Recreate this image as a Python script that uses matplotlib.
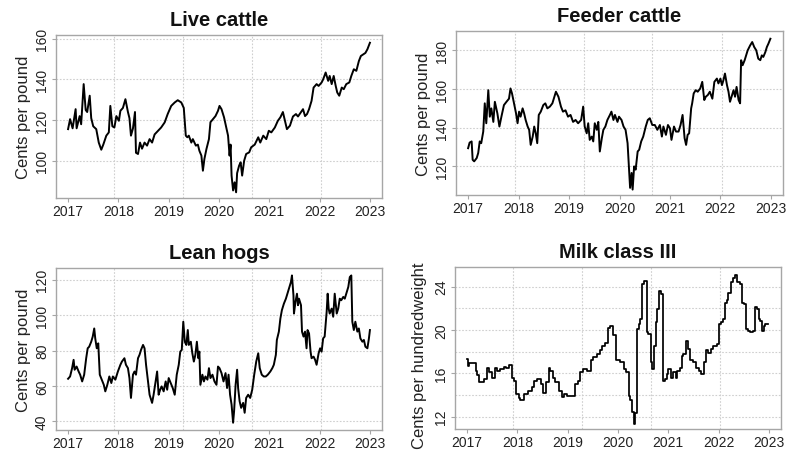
import matplotlib
matplotlib.use("Agg")
import matplotlib.pyplot as plt
import numpy as np

plt.rcParams['font.family'] = ['Liberation Sans', 'DejaVu Sans']

# ---------------- data (decimal years, values) ----------------
lc_years = [2017.00, 2017.04, 2017.09, 2017.15, 2017.17, 2017.23, 2017.26, 2017.31, 2017.35, 2017.38,
            2017.43, 2017.46, 2017.50, 2017.56, 2017.61, 2017.66, 2017.70, 2017.76, 2017.81, 2017.84,
            2017.88, 2017.92, 2017.96, 2018.01, 2018.04, 2018.09, 2018.14, 2018.19, 2018.22, 2018.25,
            2018.29, 2018.33, 2018.35, 2018.39, 2018.43, 2018.47, 2018.52, 2018.57, 2018.62, 2018.67,
            2018.72, 2018.79, 2018.85, 2018.92, 2018.98, 2019.05, 2019.12, 2019.18, 2019.25, 2019.30,
            2019.34, 2019.37, 2019.40, 2019.45, 2019.48, 2019.54, 2019.58, 2019.61, 2019.65, 2019.68,
            2019.71, 2019.75, 2019.80, 2019.83, 2019.88, 2019.93, 2019.98, 2020.01, 2020.05, 2020.10,
            2020.13, 2020.18, 2020.21, 2020.23, 2020.25, 2020.28, 2020.31, 2020.34, 2020.36, 2020.40,
            2020.43, 2020.46, 2020.50, 2020.54, 2020.60, 2020.64, 2020.71, 2020.78, 2020.82, 2020.88,
            2020.94, 2020.99, 2021.04, 2021.11, 2021.17, 2021.22, 2021.27, 2021.31, 2021.35, 2021.41,
            2021.47, 2021.53, 2021.57, 2021.63, 2021.67, 2021.71, 2021.75, 2021.79, 2021.84, 2021.88,
            2021.94, 2021.98, 2022.04, 2022.07, 2022.12, 2022.17, 2022.20, 2022.24, 2022.28, 2022.32,
            2022.35, 2022.39, 2022.44, 2022.48, 2022.53, 2022.59, 2022.63, 2022.68, 2022.73, 2022.78,
            2022.82, 2022.87, 2022.91, 2022.95, 2023.00]
lc_values = [115.6, 120.5, 116.0, 125.4, 116.0, 122.0, 118.0, 137.7, 125.0, 124.0,
             132.0, 121.0, 117.0, 115.6, 109.0, 105.5, 108.0, 112.4, 114.0, 127.0,
             117.0, 116.4, 122.0, 119.7, 124.6, 126.0, 130.3, 124.0, 121.0, 112.4,
             116.0, 124.0, 104.0, 103.4, 109.0, 106.0, 109.0, 107.5, 110.7, 109.0,
             113.0, 114.8, 116.4, 118.9, 123.0, 127.0, 128.7, 129.8, 128.7, 126.0,
             112.4, 111.6, 112.4, 109.0, 110.7, 107.5, 108.0, 105.0, 102.6, 95.2,
             101.0, 105.8, 110.7, 119.0, 120.5, 122.0, 124.6, 127.0, 125.4, 121.4,
             118.0, 112.4, 102.6, 108.0, 92.8, 85.5, 89.5, 84.6, 94.0, 97.7,
             99.3, 92.8, 100.1, 103.4, 104.2, 106.7, 108.0, 111.6, 109.0, 112.4,
             110.7, 114.8, 114.0, 116.4, 119.7, 121.4, 124.0, 119.7, 115.6, 117.3,
             121.8, 123.0, 121.8, 124.0, 125.4, 122.0, 123.0, 125.4, 129.5, 136.0,
             137.7, 136.8, 138.5, 140.0, 143.4, 139.3, 141.7, 137.7, 141.7, 136.8,
             133.6, 132.0, 136.0, 135.2, 137.7, 138.5, 141.7, 145.0, 144.2, 149.0,
             151.5, 152.3, 153.0, 154.8, 158.0]

fc_years = [2017.00, 2017.03, 2017.07, 2017.09, 2017.12, 2017.17, 2017.20, 2017.23, 2017.26, 2017.30,
            2017.33, 2017.36, 2017.40, 2017.43, 2017.46, 2017.50, 2017.53, 2017.58, 2017.62, 2017.66,
            2017.71, 2017.76, 2017.81, 2017.84, 2017.87, 2017.91, 2017.95, 2017.98, 2018.01, 2018.04,
            2018.08, 2018.11, 2018.14, 2018.18, 2018.21, 2018.24, 2018.28, 2018.31, 2018.34, 2018.37,
            2018.40, 2018.44, 2018.49, 2018.53, 2018.57, 2018.62, 2018.67, 2018.71, 2018.74, 2018.79,
            2018.84, 2018.88, 2018.93, 2018.98, 2019.03, 2019.08, 2019.13, 2019.18, 2019.24, 2019.28,
            2019.31, 2019.35, 2019.38, 2019.41, 2019.45, 2019.48, 2019.51, 2019.55, 2019.58, 2019.61,
            2019.65, 2019.68, 2019.72, 2019.76, 2019.81, 2019.84, 2019.88, 2019.91, 2019.96, 2019.99,
            2020.04, 2020.08, 2020.12, 2020.16, 2020.19, 2020.21, 2020.24, 2020.26, 2020.29, 2020.32,
            2020.36, 2020.39, 2020.43, 2020.47, 2020.52, 2020.56, 2020.60, 2020.65, 2020.70, 2020.75,
            2020.80, 2020.84, 2020.87, 2020.92, 2020.96, 2021.00, 2021.03, 2021.08, 2021.12, 2021.17,
            2021.21, 2021.25, 2021.29, 2021.32, 2021.35, 2021.38, 2021.42, 2021.44, 2021.47, 2021.51,
            2021.55, 2021.60, 2021.64, 2021.68, 2021.71, 2021.75, 2021.79, 2021.84, 2021.88, 2021.93,
            2021.96, 2022.00, 2022.03, 2022.06, 2022.09, 2022.13, 2022.16, 2022.19, 2022.22, 2022.26,
            2022.29, 2022.32, 2022.36, 2022.39, 2022.41, 2022.44, 2022.48, 2022.51, 2022.54, 2022.59,
            2022.63, 2022.67, 2022.71, 2022.75, 2022.79, 2022.82, 2022.85, 2022.89, 2022.92, 2022.95,
            2022.99]
fc_values = [129.4, 132.3, 132.9, 123.4, 122.6, 124.3, 126.9, 132.9, 132.0, 138.0,
             152.6, 142.3, 159.4, 145.7, 150.0, 143.0, 153.4, 147.4, 140.6, 145.7,
             151.7, 153.4, 155.0, 160.3, 157.7, 152.6, 147.4, 142.3, 148.3, 145.7,
             150.0, 147.4, 144.0, 140.6, 138.9, 131.1, 135.4, 140.6, 137.1, 132.0,
             146.6, 148.3, 151.7, 152.6, 150.0, 150.9, 152.6, 156.0, 158.6, 156.0,
             150.9, 148.3, 149.0, 145.7, 146.6, 143.0, 144.0, 142.3, 144.0, 150.9,
             140.6, 137.1, 142.3, 133.7, 135.4, 132.9, 142.3, 138.9, 143.0, 127.7,
             134.6, 138.9, 140.6, 144.0, 146.6, 148.3, 144.0, 146.6, 143.0, 145.7,
             144.0, 140.6, 138.9, 132.0, 118.3, 108.9, 116.6, 108.0, 120.0, 118.3,
             127.7, 128.6, 132.9, 135.4, 140.6, 144.0, 144.9, 141.4, 141.4, 138.9,
             141.4, 135.4, 140.6, 136.3, 141.4, 139.7, 133.7, 140.6, 138.0, 138.0,
             141.4, 146.6, 134.6, 131.1, 136.3, 137.1, 150.0, 152.6, 157.7, 159.4,
             158.6, 160.3, 163.7, 154.3, 156.0, 156.9, 158.6, 155.0, 163.7, 165.4,
             162.9, 165.4, 162.0, 164.6, 168.0, 162.0, 158.6, 153.4, 156.0, 159.4,
             156.0, 161.1, 154.3, 152.6, 174.9, 172.3, 174.9, 177.4, 180.0, 182.6,
             184.3, 181.7, 180.0, 175.7, 174.9, 177.4, 176.6, 179.1, 181.7, 183.4,
             186.0]

lh_years = [2017.00, 2017.04, 2017.08, 2017.11, 2017.13, 2017.17, 2017.21, 2017.24, 2017.28, 2017.32,
            2017.36, 2017.39, 2017.42, 2017.46, 2017.49, 2017.52, 2017.54, 2017.57, 2017.60, 2017.63,
            2017.67, 2017.71, 2017.74, 2017.78, 2017.82, 2017.86, 2017.89, 2017.94, 2017.99, 2018.04,
            2018.07, 2018.12, 2018.15, 2018.19, 2018.22, 2018.25, 2018.29, 2018.32, 2018.35, 2018.39,
            2018.42, 2018.45, 2018.49, 2018.52, 2018.55, 2018.59, 2018.62, 2018.67, 2018.70, 2018.73,
            2018.77, 2018.80, 2018.83, 2018.86, 2018.90, 2018.94, 2018.97, 2019.00, 2019.04, 2019.08,
            2019.12, 2019.16, 2019.20, 2019.23, 2019.26, 2019.29, 2019.32, 2019.35, 2019.38, 2019.40,
            2019.44, 2019.47, 2019.50, 2019.53, 2019.56, 2019.59, 2019.61, 2019.63, 2019.67, 2019.70,
            2019.73, 2019.77, 2019.80, 2019.83, 2019.87, 2019.91, 2019.95, 2019.98, 2020.01, 2020.05,
            2020.09, 2020.13, 2020.16, 2020.19, 2020.22, 2020.25, 2020.28, 2020.30, 2020.33, 2020.36,
            2020.38, 2020.41, 2020.44, 2020.48, 2020.51, 2020.54, 2020.58, 2020.62, 2020.66, 2020.70,
            2020.74, 2020.78, 2020.81, 2020.85, 2020.89, 2020.93, 2020.97, 2021.02, 2021.06, 2021.09,
            2021.13, 2021.15, 2021.19, 2021.22, 2021.25, 2021.29, 2021.33, 2021.36, 2021.39, 2021.43,
            2021.45, 2021.48, 2021.49, 2021.52, 2021.55, 2021.57, 2021.59, 2021.63, 2021.65, 2021.68,
            2021.71, 2021.74, 2021.76, 2021.79, 2021.82, 2021.84, 2021.88, 2021.91, 2021.94, 2021.98,
            2022.01, 2022.04, 2022.07, 2022.10, 2022.14, 2022.16, 2022.18, 2022.20, 2022.24, 2022.27,
            2022.30, 2022.34, 2022.37, 2022.40, 2022.43, 2022.47, 2022.50, 2022.53, 2022.57, 2022.60,
            2022.63, 2022.65, 2022.68, 2022.71, 2022.75, 2022.78, 2022.81, 2022.85, 2022.88, 2022.91,
            2022.95, 2022.98, 2023.00]
lh_values = [64.1, 65.4, 70.1, 74.8, 69.2, 71.0, 68.2, 66.4, 62.6, 66.4,
             75.7, 81.3, 82.2, 85.0, 87.9, 92.5, 86.9, 81.3, 84.1, 66.4,
             63.6, 60.7, 57.0, 60.7, 65.4, 61.7, 65.4, 63.6, 68.2, 72.0,
             73.8, 75.7, 72.0, 70.1, 64.5, 53.3, 66.4, 68.2, 66.4, 75.7,
             77.6, 80.4, 83.2, 81.3, 72.0, 62.6, 55.1, 50.5, 55.1, 60.7,
             68.2, 55.1, 57.9, 59.8, 57.0, 62.6, 57.9, 64.5, 61.7, 58.9,
             55.1, 66.4, 72.0, 79.4, 80.4, 96.3, 85.0, 83.2, 91.6, 83.2,
             85.0, 78.5, 73.8, 77.6, 85.0, 75.7, 79.4, 60.7, 66.4, 62.6,
             65.4, 63.6, 70.1, 64.5, 66.4, 62.6, 60.7, 71.0, 70.1, 67.3,
             62.6, 67.3, 58.9, 66.4, 55.1, 49.5, 39.3, 45.8, 60.7, 69.2,
             58.9, 51.4, 47.7, 50.5, 44.9, 53.3, 55.1, 53.3, 57.9, 66.4,
             73.8, 78.5, 70.1, 66.4, 65.4, 65.4, 66.4, 68.2, 70.1, 72.0,
             77.6, 86.0, 90.7, 98.1, 102.8, 106.5, 109.3, 112.1, 114.9, 118.7,
             122.4, 111.2, 100.9, 107.5, 112.1, 105.6, 109.3, 105.6, 90.7, 87.9,
             90.7, 81.3, 91.6, 89.7, 79.4, 75.7, 76.6, 74.8, 72.0, 78.5,
             81.3, 79.4, 86.9, 87.9, 101.9, 112.1, 103.7, 100.9, 103.7, 99.1,
             112.1, 100.9, 103.7, 109.3, 108.4, 110.3, 109.3, 112.1, 115.9, 121.5,
             122.4, 96.3, 91.6, 96.3, 90.7, 92.5, 86.9, 85.0, 86.0, 82.2,
             81.3, 86.9, 91.6]

mk_years = [2017.00, 2017.01, 2017.03, 2017.17, 2017.20, 2017.24, 2017.33, 2017.40, 2017.43, 2017.50,
            2017.56, 2017.60, 2017.66, 2017.73, 2017.78, 2017.83, 2017.89, 2017.93, 2017.98, 2018.03,
            2018.06, 2018.14, 2018.22, 2018.29, 2018.34, 2018.39, 2018.46, 2018.51, 2018.57, 2018.62,
            2018.65, 2018.71, 2018.75, 2018.82, 2018.88, 2018.93, 2018.98, 2019.15, 2019.20, 2019.25,
            2019.31, 2019.38, 2019.46, 2019.51, 2019.58, 2019.65, 2019.69, 2019.74, 2019.80, 2019.84,
            2019.90, 2019.96, 2020.04, 2020.12, 2020.16, 2020.21, 2020.24, 2020.27, 2020.31, 2020.34,
            2020.37, 2020.41, 2020.44, 2020.47, 2020.51, 2020.57, 2020.60, 2020.65, 2020.68, 2020.72,
            2020.76, 2020.78, 2020.82, 2020.85, 2020.89, 2020.94, 2020.97, 2021.00, 2021.05, 2021.10,
            2021.15, 2021.18, 2021.23, 2021.27, 2021.30, 2021.35, 2021.40, 2021.44, 2021.50, 2021.56,
            2021.61, 2021.65, 2021.70, 2021.74, 2021.79, 2021.84, 2021.89, 2021.96, 2022.01, 2022.05,
            2022.09, 2022.13, 2022.16, 2022.19, 2022.24, 2022.28, 2022.32, 2022.37, 2022.42, 2022.47,
            2022.50, 2022.54, 2022.59, 2022.63, 2022.69, 2022.73, 2022.77, 2022.80, 2022.83, 2022.87,
            2022.90, 2022.93, 2022.99]
mk_values = [17.3, 16.7, 16.9, 16.2, 15.8, 15.2, 15.5, 16.5, 16.1, 15.6,
             16.5, 16.2, 16.4, 16.6, 16.5, 16.8, 15.6, 15.3, 14.1, 13.7,
             13.5, 14.1, 14.4, 14.7, 15.3, 15.5, 15.0, 14.2, 15.2, 16.5,
             16.2, 15.6, 15.2, 14.4, 13.8, 14.1, 13.9, 15.0, 15.3, 16.1,
             16.4, 16.2, 17.2, 17.5, 17.8, 18.1, 18.5, 18.8, 20.2, 20.4,
             19.5, 17.2, 17.0, 16.4, 16.1, 13.9, 13.5, 12.4, 11.3, 12.3,
             20.1, 20.5, 21.0, 24.2, 24.5, 19.8, 19.6, 17.0, 16.4, 18.5,
             20.7, 21.9, 23.6, 23.3, 15.3, 15.5, 15.9, 16.4, 15.6, 16.1,
             15.6, 16.2, 16.5, 17.6, 17.8, 19.0, 18.2, 17.2, 17.0, 16.5,
             16.2, 15.9, 17.0, 18.1, 17.9, 18.2, 18.5, 18.7, 20.5, 20.7,
             21.0, 22.5, 22.8, 23.4, 24.4, 24.8, 25.1, 24.4, 24.2, 22.5,
             22.4, 20.1, 19.9, 19.8, 19.9, 22.1, 21.9, 21.0, 20.8, 19.9,
             20.4, 20.5, 20.5]

titles = ["Live cattle", "Feeder cattle", "Lean hogs", "Milk class III"]
ylabels = ["Cents per pound", "Cents per pound", "Cents per pound", "Cents per hundredweight"]
year_ticks = [2017, 2018, 2019, 2020, 2021, 2022, 2023]

# ---------------- layout ----------------
fig = plt.figure(figsize=(7.86, 4.52), dpi=100)
W, H = 786, 452

def axes_px(l, t, r, b):
    return fig.add_axes([l / W, 1 - b / H, (r - l) / W, (b - t) / H])

panels = [
    dict(box=(56, 36, 382, 199), x=lc_years, y=lc_values, ylim=(81.8, 161.8),
         yticks=[100, 120, 140, 160], hgrid=[100, 120, 140, 160], step=False,
         ylab_xy=(-0.076, 0.5)),
    dict(box=(456, 32, 783, 196), x=fc_years, y=fc_values, ylim=(105.2, 190.0),
         yticks=[120, 140, 160, 180], hgrid=[120, 140, 160, 180], step=False,
         ylab_xy=(-0.076, 0.5)),
    dict(box=(56, 269, 382, 431), x=lh_years, y=lh_values, ylim=(35.2, 126.6),
         yticks=[40, 60, 80, 100, 120], hgrid=[40, 60, 80, 100, 120], step=False,
         ylab_xy=(-0.076, 0.5)),
    dict(box=(455, 268, 781, 430), x=mk_years, y=mk_values, ylim=(10.85, 25.8),
         yticks=[12, 16, 20, 24], hgrid=[12, 14, 16, 18, 20, 22, 24], step=True,
         ylab_xy=(-0.086, 0.46)),
]
vgrid = [2017.92, 2019.29, 2020.65, 2022.03]
frame_col = "#a6a6a6"
grid_col = "#cfcfcf"

for p, title, ylab in zip(panels, titles, ylabels):
    ax = axes_px(*p["box"])
    ax.set_xlim(2016.76, 2023.24)
    ax.set_ylim(*p["ylim"])
    for g in p["hgrid"]:
        ax.axhline(g, color=grid_col, lw=0.8, ls=(0, (1.5, 1.5)), zorder=1)
    for g in vgrid:
        ax.axvline(g, color=grid_col, lw=0.8, ls=(0, (1.5, 1.5)), zorder=1)
    if p["step"]:
        ax.plot(p["x"], p["y"], color="black", lw=1.25, drawstyle="steps-post", zorder=3)
    else:
        ax.plot(p["x"], p["y"], color="black", lw=1.4, zorder=3)
    ax.set_xticks(year_ticks)
    ax.set_xticklabels([str(t) for t in year_ticks])
    ax.set_yticks(p["yticks"])
    ax.set_yticklabels([str(t) for t in p["yticks"]], rotation=90, va="center")
    ax.tick_params(axis="both", colors=frame_col, labelcolor="#222222",
                   labelsize=10, length=3, width=0.8)
    ax.tick_params(axis="x", pad=1.5)
    ax.tick_params(axis="y", pad=2)
    for s in ax.spines.values():
        s.set_color(frame_col)
        s.set_linewidth(1.0)
    ax.set_title(title, fontsize=14.5, fontweight="bold", pad=7, color="#111111")
    ax.set_ylabel(ylab, fontsize=12, color="#222222")
    ax.yaxis.set_label_coords(*p["ylab_xy"])

fig.savefig("out.png", dpi=100)
